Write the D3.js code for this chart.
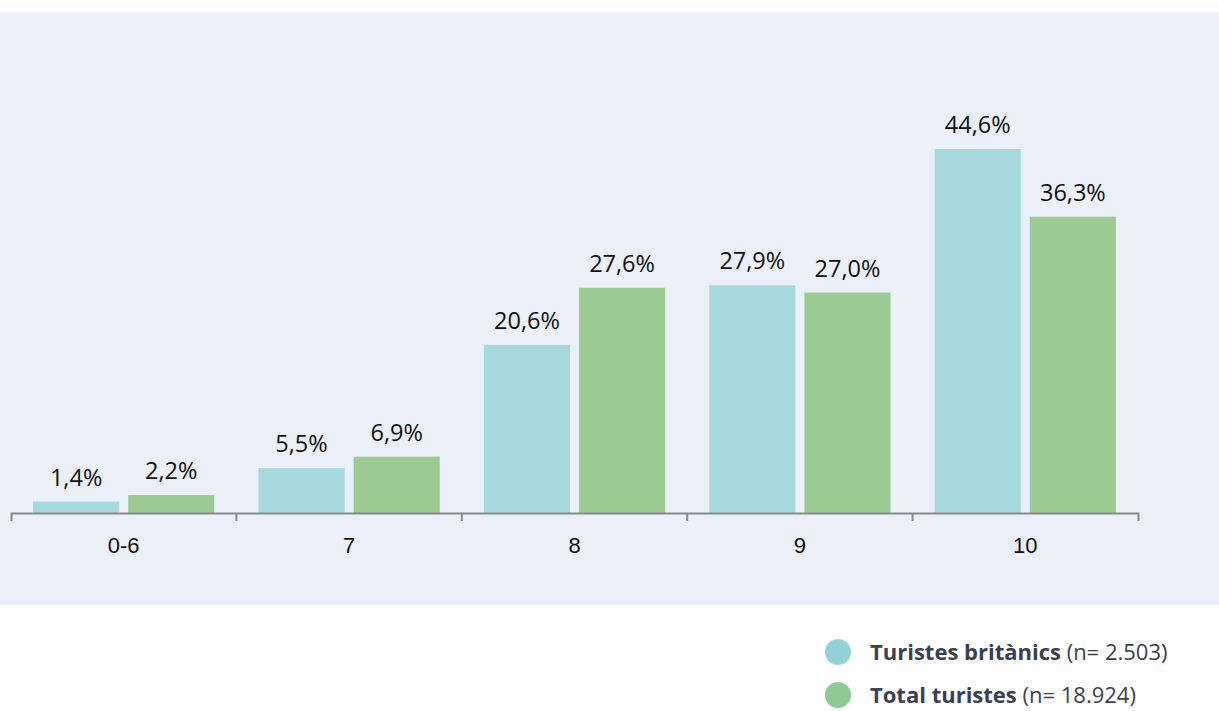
<!DOCTYPE html>
<html>
<head>
<meta charset="utf-8">
<style>
body { margin: 0; background: #ffffff; }
svg { display: block; font-family: "Open Sans", sans-serif; }
.axis path, .axis line { stroke: #8a8a8a; stroke-width: 2; fill: none; }
.axis text { font-size: 22px; fill: #111111; }
.barText { font-size: 23.5px; fill: #111111; text-anchor: middle; }
.legend text { font-size: 22px; fill: #3b4052; }
</style>
</head>
<body>
<svg class="chart"></svg>
<script src="https://d3js.org/d3.v7.min.js"></script>
<script>

var categories = ["0-6", "7", "8", "9", "10"];
var seriesNames = ["Turistes britànics", "Total turistes"];
var seriesNotes = ["(n= 2.503)", "(n= 18.924)"];
var britanics = [1.4, 5.5, 20.6, 27.9, 44.6];
var total = [2.2, 6.9, 27.6, 27.0, 36.3];

var barColors = ["#a6d9dd", "#9bcb93"];
var dotColors = ["#93d3d8", "#8dcb92"];

var width = 1219, height = 711;
var base = 513;

var svg = d3.select(".chart")
  .attr("width", width)
  .attr("height", height);

// panel background
svg.append("rect")
  .attr("x", 0).attr("y", 12)
  .attr("width", width).attr("height", 593)
  .attr("fill", "#ebeff8");

var x = d3.scaleBand()
  .domain(categories)
  .range([11, 1138])
  .padding(0);

var x1 = d3.scaleBand()
  .domain([0, 1])
  .range([0, x.bandwidth()])
  .paddingInner(0.095)
  .paddingOuter(0.232);

var y = d3.scaleLinear()
  .domain([0, 44.6])
  .range([base, 149]);

var rows = categories.map((c, i) => ({ cat: c, vals: [britanics[i], total[i]] }));

var groups = svg.selectAll(".grp")
  .data(rows)
  .enter().append("g")
    .attr("transform", d => `translate(${x(d.cat)},0)`);

groups.selectAll("rect")
  .data(d => d.vals)
  .enter().append("rect")
    .attr("x", (d, j) => x1(j))
    .attr("y", d => y(d))
    .attr("width", x1.bandwidth())
    .attr("height", d => base - y(d))
    .attr("fill", (d, j) => barColors[j]);

groups.selectAll(".barText")
  .data(d => d.vals)
  .enter().append("text")
    .attr("class", "barText")
    .attr("x", (d, j) => x1(j) + x1.bandwidth() / 2)
    .attr("y", d => y(d) - 16)
    .text(d => d3.format(".1f")(d).replace(".", ",") + "%");

// axis with labels at centres
var axis = svg.append("g")
  .attr("class", "axis")
  .attr("transform", `translate(0,${base})`)
  .call(d3.axisBottom(x).tickSize(0).tickSizeOuter(8).tickPadding(24));

// boundary ticks between categories
axis.selectAll(".sep")
  .data(categories.slice(1))
  .enter().append("line")
    .attr("class", "sep")
    .attr("x1", d => x(d)).attr("x2", d => x(d))
    .attr("y1", 0).attr("y2", 8);

// legend
var legend = svg.append("g")
  .attr("class", "legend")
  .selectAll("g")
  .data(seriesNames)
  .enter().append("g")
    .attr("transform", (d, i) => `translate(838,${652 + i * 43})`);

legend.append("circle")
  .attr("r", 13)
  .attr("fill", (d, i) => dotColors[i]);

var lt = legend.append("text")
  .attr("x", 32)
  .attr("dy", "0.35em");
lt.append("tspan").attr("font-weight", "bold").text(d => d);
lt.append("tspan").text((d, i) => " " + seriesNotes[i]);

</script>
</body>
</html>
